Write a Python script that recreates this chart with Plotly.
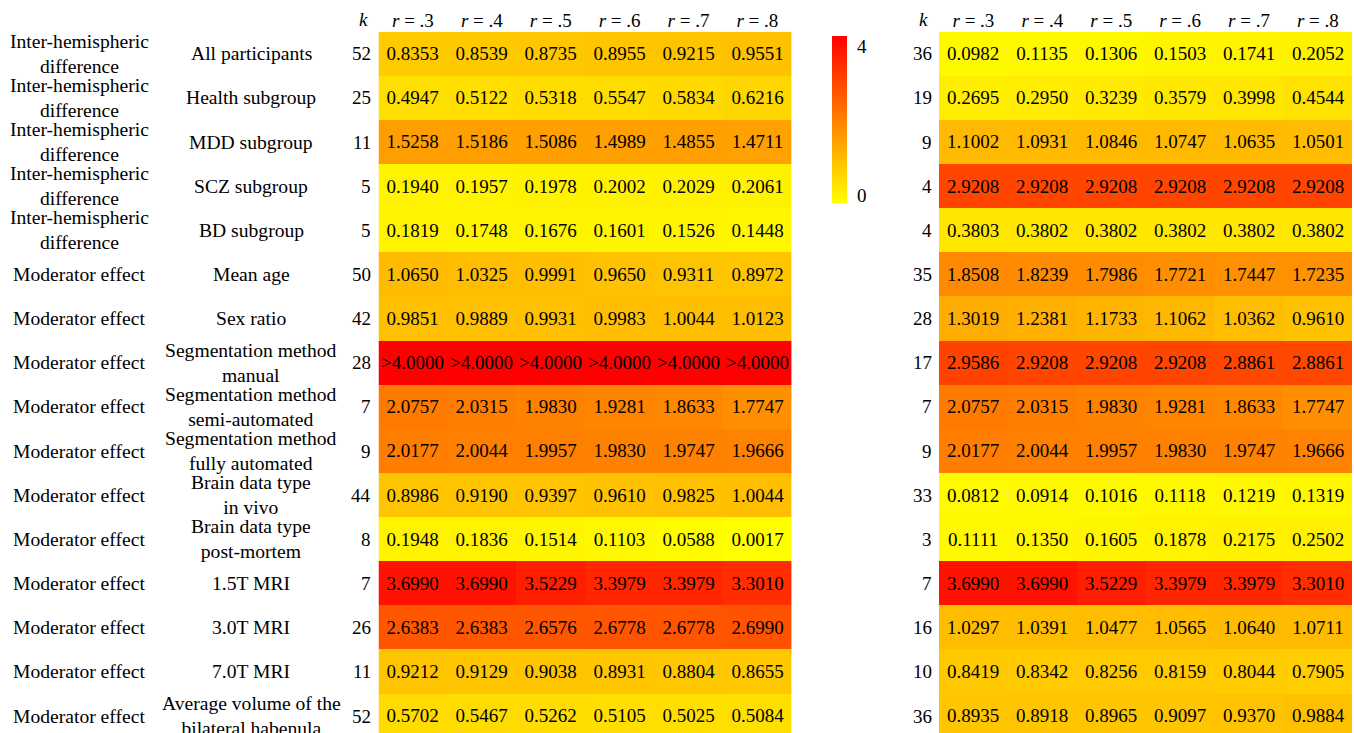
import plotly.graph_objects as go

# ---- data -------------------------------------------------------------
r_labels = ["<i>r</i> = .3", "<i>r</i> = .4", "<i>r</i> = .5",
            "<i>r</i> = .6", "<i>r</i> = .7", "<i>r</i> = .8"]

analysis_type = (["Inter-hemispheric<br>difference"] * 5
                 + ["Moderator effect"] * 11)

subgroups = [
    "All participants", "Health subgroup", "MDD subgroup", "SCZ subgroup",
    "BD subgroup", "Mean age", "Sex ratio",
    "Segmentation method<br>manual", "Segmentation method<br>semi-automated",
    "Segmentation method<br>fully automated", "Brain data type<br>in vivo",
    "Brain data type<br>post-mortem", "1.5T MRI", "3.0T MRI", "7.0T MRI",
    "Average volume of the<br>bilateral habenula",
]

k_left = [52, 25, 11, 5, 5, 50, 42, 28, 7, 9, 44, 8, 7, 26, 11, 52]
k_right = [36, 19, 9, 4, 4, 35, 28, 17, 7, 9, 33, 3, 7, 16, 10, 36]

# values given as strings keep the "greater than" entries intact
vals_left = [
    ["0.8353", "0.8539", "0.8735", "0.8955", "0.9215", "0.9551"],
    ["0.4947", "0.5122", "0.5318", "0.5547", "0.5834", "0.6216"],
    ["1.5258", "1.5186", "1.5086", "1.4989", "1.4855", "1.4711"],
    ["0.1940", "0.1957", "0.1978", "0.2002", "0.2029", "0.2061"],
    ["0.1819", "0.1748", "0.1676", "0.1601", "0.1526", "0.1448"],
    ["1.0650", "1.0325", "0.9991", "0.9650", "0.9311", "0.8972"],
    ["0.9851", "0.9889", "0.9931", "0.9983", "1.0044", "1.0123"],
    [">4.0000", ">4.0000", ">4.0000", ">4.0000", ">4.0000", ">4.0000"],
    ["2.0757", "2.0315", "1.9830", "1.9281", "1.8633", "1.7747"],
    ["2.0177", "2.0044", "1.9957", "1.9830", "1.9747", "1.9666"],
    ["0.8986", "0.9190", "0.9397", "0.9610", "0.9825", "1.0044"],
    ["0.1948", "0.1836", "0.1514", "0.1103", "0.0588", "0.0017"],
    ["3.6990", "3.6990", "3.5229", "3.3979", "3.3979", "3.3010"],
    ["2.6383", "2.6383", "2.6576", "2.6778", "2.6778", "2.6990"],
    ["0.9212", "0.9129", "0.9038", "0.8931", "0.8804", "0.8655"],
    ["0.5702", "0.5467", "0.5262", "0.5105", "0.5025", "0.5084"],
]

vals_right = [
    ["0.0982", "0.1135", "0.1306", "0.1503", "0.1741", "0.2052"],
    ["0.2695", "0.2950", "0.3239", "0.3579", "0.3998", "0.4544"],
    ["1.1002", "1.0931", "1.0846", "1.0747", "1.0635", "1.0501"],
    ["2.9208", "2.9208", "2.9208", "2.9208", "2.9208", "2.9208"],
    ["0.3803", "0.3802", "0.3802", "0.3802", "0.3802", "0.3802"],
    ["1.8508", "1.8239", "1.7986", "1.7721", "1.7447", "1.7235"],
    ["1.3019", "1.2381", "1.1733", "1.1062", "1.0362", "0.9610"],
    ["2.9586", "2.9208", "2.9208", "2.9208", "2.8861", "2.8861"],
    ["2.0757", "2.0315", "1.9830", "1.9281", "1.8633", "1.7747"],
    ["2.0177", "2.0044", "1.9957", "1.9830", "1.9747", "1.9666"],
    ["0.0812", "0.0914", "0.1016", "0.1118", "0.1219", "0.1319"],
    ["0.1111", "0.1350", "0.1605", "0.1878", "0.2175", "0.2502"],
    ["3.6990", "3.6990", "3.5229", "3.3979", "3.3979", "3.3010"],
    ["1.0297", "1.0391", "1.0477", "1.0565", "1.0640", "1.0711"],
    ["0.8419", "0.8342", "0.8256", "0.8159", "0.8044", "0.7905"],
    ["0.8935", "0.8918", "0.8965", "0.9097", "0.9370", "0.9884"],
]

# ---- helpers ----------------------------------------------------------
W, H = 1354, 733
FONT = "Liberation Serif"
FS = 19          # cell values, headers, counts
FS_LABEL = 19.6  # row description columns


def to_num(s):
    return float(s.lstrip(">"))


def px_x(p):
    return p / W


def px_y(p):
    return 1 - p / H


def txt_font(size=FS):
    return dict(family=FONT, size=size, color="black")


z_left = [[to_num(v) for v in row] for row in vals_left]
z_right = [[to_num(v) for v in row] for row in vals_right]
rows = list(range(len(subgroups)))
cols = list(range(len(r_labels)))

colorscale = [[0.0, "#ffff00"], [1.0, "#ff0000"]]

fig = go.Figure()

fig.add_trace(go.Heatmap(
    z=z_left, x=cols, y=rows, text=vals_left, texttemplate="%{text}",
    textfont=txt_font(),
    colorscale=colorscale, zmin=0, zmax=4, xgap=0, ygap=0,
    hoverinfo="skip",
    colorbar=dict(
        x=px_x(832), xanchor="left", xpad=0,
        y=px_y(36), yanchor="top", ypad=0,
        len=167, lenmode="pixels", thickness=15, thicknessmode="pixels",
        outlinewidth=0, showticklabels=False, ticks="",
    ),
    xaxis="x", yaxis="y",
))

fig.add_trace(go.Heatmap(
    z=z_right, x=cols, y=rows, text=vals_right, texttemplate="%{text}",
    textfont=txt_font(),
    colorscale=colorscale, zmin=0, zmax=4, showscale=False,
    hoverinfo="skip",
    xaxis="x2", yaxis="y2",
))

ROW_PX = 44.15
TOP = 31.7
visible_rows = (H - TOP) / ROW_PX
yrange = [-0.5 + visible_rows, -0.5]
ydom = [0, px_y(TOP)]

axis_common = dict(
    side="top", tickmode="array", tickvals=cols, ticktext=r_labels,
    ticks="", showgrid=False, zeroline=False, showline=False,
    tickfont=txt_font(),
    range=[-0.5, 5.5], fixedrange=True,
)
yaxis_common = dict(
    range=yrange, showticklabels=False, ticks="", showgrid=False,
    zeroline=False, showline=False, fixedrange=True, domain=ydom,
)

fig.update_layout(
    width=W, height=H,
    margin=dict(l=0, r=0, t=0, b=0, pad=0),
    paper_bgcolor="white", plot_bgcolor="white",
    font=txt_font(),
    xaxis=dict(domain=[px_x(378.5), px_x(791.8)], anchor="y", **axis_common),
    yaxis=dict(anchor="x", **yaxis_common),
    xaxis2=dict(domain=[px_x(939), px_x(1352.3)], anchor="y2", **axis_common),
    yaxis2=dict(anchor="x2", **yaxis_common),
)

annotations = []
# header "k" above each count column
for xc in (363, 923):
    annotations.append(dict(
        x=px_x(xc), y=px_y(20), xref="paper", yref="paper",
        text="<i>k</i>", showarrow=False, xanchor="center", yanchor="middle",
        font=txt_font(),
    ))

for i in rows:
    annotations.append(dict(
        x=px_x(79), y=i, xref="paper", yref="y", text=analysis_type[i],
        showarrow=False, xanchor="center", yanchor="middle",
        font=txt_font(FS_LABEL),
    ))
    annotations.append(dict(
        x=px_x(251), y=i, xref="paper", yref="y", text=subgroups[i],
        showarrow=False, xanchor="center", yanchor="middle",
        font=txt_font(FS_LABEL),
    ))
    annotations.append(dict(
        x=px_x(373), y=i, xref="paper", yref="y", text=str(k_left[i]),
        showarrow=False, xanchor="right", yanchor="middle",
        font=txt_font(),
    ))
    annotations.append(dict(
        x=px_x(934), y=i, xref="paper", yref="y2", text=str(k_right[i]),
        showarrow=False, xanchor="right", yanchor="middle",
        font=txt_font(),
    ))

# colour bar end labels
for txt, yc in (("4", 46), ("0", 195)):
    annotations.append(dict(
        x=px_x(855), y=px_y(yc), xref="paper", yref="paper", text=txt,
        showarrow=False, xanchor="left", yanchor="middle",
        font=txt_font(),
    ))

fig.update_layout(annotations=annotations)

fig.write_html("out.html")
